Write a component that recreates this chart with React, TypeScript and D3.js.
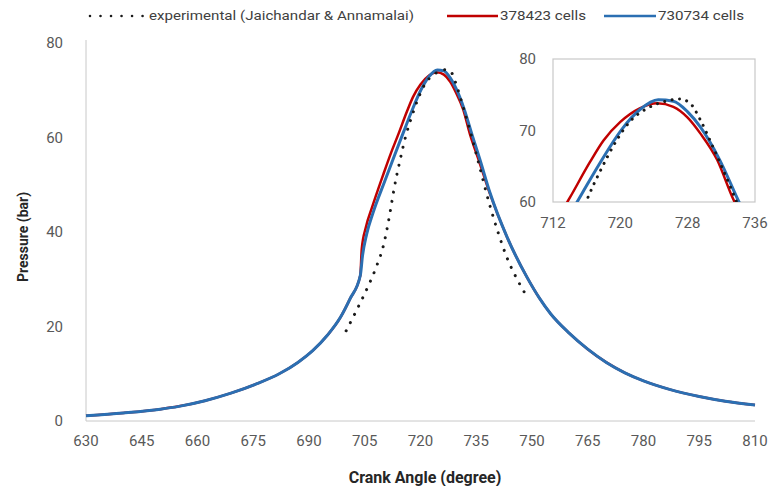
import React from "react";
import * as d3 from "d3";

// ---------- data ----------
const xTicks = [630, 645, 660, 675, 690, 705, 720, 735, 750, 765, 780, 795, 810];
const yTicks = [0, 20, 40, 60, 80];
const insetXTicks = [712, 720, 728, 736];
const insetYTicks = [60, 70, 80];

const angleBlue = [630, 640, 650, 655, 662, 669, 676, 682, 687, 691, 695, 698.5, 701, 703.8, 704.4, 705.5, 707.2, 710.4, 713, 715.5, 717.6, 720.2, 722.3, 724.5, 726.3, 728, 729.5, 731.8, 733.9, 736, 738.7, 743.3, 748.6, 752, 755, 760, 765, 770, 775, 780, 787, 795, 802, 810];
const pressureBlue = [1.1, 1.7, 2.5, 3.1, 4.3, 5.9, 7.9, 10.0, 12.4, 14.9, 18.2, 22.0, 25.8, 30.8, 35, 39.5, 44, 50.8, 56.2, 61.3, 65.5, 70.2, 72.9, 74.3, 74.1, 72.6, 70.5, 65.9, 60.5, 55.3, 48.3, 38.9, 30.5, 26, 22.7, 18.6, 15.2, 12.4, 10.2, 8.5, 6.7, 5.2, 4.2, 3.4];

const angleRed = [630, 640, 650, 655, 662, 669, 676, 682, 687, 691, 695, 698.5, 701, 703.8, 704.2, 705.3, 707, 710, 712, 714, 716.4, 718, 720, 722.3, 724.4, 726.3, 728, 729.5, 731.5, 733.3, 735.5, 738.5, 743.3, 748.6, 752, 755, 760, 765, 770, 775, 780, 787, 795, 802, 810];
const pressureRed = [1.1, 1.7, 2.5, 3.1, 4.3, 5.9, 7.9, 10.0, 12.4, 14.9, 18.2, 22.0, 25.8, 30.8, 36.5, 41, 45.3, 52.2, 56.6, 60.6, 65.6, 68.6, 71.2, 73.1, 73.8, 73.3, 71.8, 69.6, 65.9, 60.7, 55.6, 48.5, 38.9, 30.5, 26, 22.7, 18.6, 15.2, 12.4, 10.2, 8.5, 6.7, 5.2, 4.2, 3.4];

const angleExp = [700, 702.2, 704.4, 706.3, 708.2, 710.2, 711.2, 712, 712.9, 714.5, 716, 717.6, 719.6, 721.1, 723.2, 725.1, 727.1, 728.3, 729.5, 731, 731.8, 733.3, 735.5, 738.7, 741, 743.3, 746, 748.9];
const pressureExp = [19.1, 22.5, 26, 29.2, 32.8, 37.7, 41.5, 45, 49.2, 55.2, 60.2, 64.3, 68.7, 71.2, 73.1, 74, 74.4, 73.8, 71.5, 67.7, 65.6, 61.5, 55, 45.5, 39.6, 34.5, 30, 26];

const seriesNames = ["experimental (Jaichandar & Annamalai)", "378423 cells", "730734 cells"];

const W = 773;
const H = 486;

const RED = "#c00000";
const BLUE = "#2b6fb2";
const DOT = "#1a1a1a";
const TICK = "#595959";
const AXIS = "#c8c8c8";
const FONT = "Roboto, 'Noto Sans', sans-serif";

function zip(a: number[], b: number[]): [number, number][] {
  return a.map((v, i) => [v, b[i]] as [number, number]);
}

export default function App() {
  const x = d3.scaleLinear().domain([630, 810]).range([86, 755]);
  const y = d3.scaleLinear().domain([0, 80]).range([421, 43]);

  const ix = d3.scaleLinear().domain([712, 736]).range([553, 755]);
  const iy = d3.scaleLinear().domain([60, 80]).range([202, 59]);

  const mainLine = d3
    .line<[number, number]>()
    .x((d) => x(d[0]))
    .y((d) => y(d[1]))
    .curve(d3.curveMonotoneX);
  const insetLine = d3
    .line<[number, number]>()
    .x((d) => ix(d[0]))
    .y((d) => iy(d[1]))
    .curve(d3.curveMonotoneX);

  const blue = zip(angleBlue, pressureBlue);
  const red = zip(angleRed, pressureRed);
  const exp = zip(angleExp, pressureExp);

  const dotStyle = {
    stroke: DOT,
    strokeWidth: 3,
    strokeDasharray: "0.01 9.2",
    strokeLinecap: "round" as const,
    fill: "none",
  };

  return (
    <svg
      width={W}
      height={H}
      style={{ position: "absolute", left: 0, top: 0, background: "#fff" }}
      fontFamily={FONT}
    >
      <rect x={0} y={0} width={W} height={H} fill="#fff" />
      <defs>
        <clipPath id="insetClip">
          <rect x={ix(712)} y={iy(80)} width={ix(736) - ix(712)} height={iy(60) - iy(80)} />
        </clipPath>
      </defs>

      {/* legend */}
      <g>
        <line x1={90} x2={143} y1={16} y2={16} {...dotStyle} strokeWidth={2.6} strokeDasharray="0.01 10.5" />
        <text x={149} y={16} dominantBaseline="central" fontSize={12} fill="#404040" textLength={265} lengthAdjust="spacingAndGlyphs">
          {seriesNames[0]}
        </text>
        <line x1={447} x2={498} y1={16} y2={16} stroke={RED} strokeWidth={2.5} />
        <text x={500} y={16} dominantBaseline="central" fontSize={12} fill="#404040" textLength={86} lengthAdjust="spacingAndGlyphs">
          {seriesNames[1]}
        </text>
        <line x1={604} x2={656} y1={16} y2={16} stroke={BLUE} strokeWidth={2.5} />
        <text x={658} y={16} dominantBaseline="central" fontSize={12} fill="#404040" textLength={86} lengthAdjust="spacingAndGlyphs">
          {seriesNames[2]}
        </text>
      </g>

      {/* main axes */}
      <line x1={x(630)} x2={x(630)} y1={y(80) - 3} y2={y(0)} stroke={AXIS} strokeWidth={1} />
      <line x1={x(630)} x2={x(810)} y1={y(0)} y2={y(0)} stroke={AXIS} strokeWidth={1} />
      {yTicks.map((t) => (
        <text key={"y" + t} x={63} y={y(t)} textAnchor="end" dominantBaseline="central" fontSize={15} fill={TICK}>
          {t}
        </text>
      ))}
      {xTicks.map((t) => (
        <text key={"x" + t} x={x(t)} y={441} textAnchor="middle" dominantBaseline="central" fontSize={15} fill={TICK}>
          {t}
        </text>
      ))}
      <text x={425} y={477} textAnchor="middle" dominantBaseline="central" fontSize={16} fontWeight="bold" fill="#262626">
        Crank Angle (degree)
      </text>
      <text
        transform={`translate(23, 237) rotate(-90)`}
        textAnchor="middle"
        dominantBaseline="central"
        fontSize={14}
        fontWeight="bold"
        fill="#262626"
      >
        Pressure (bar)
      </text>

      {/* main curves */}
      <path d={mainLine(red) || ""} fill="none" stroke={RED} strokeWidth={2.5} />
      <path d={mainLine(blue) || ""} fill="none" stroke={BLUE} strokeWidth={3} />
      <path d={mainLine(exp) || ""} {...dotStyle} />

      {/* inset */}
      <rect x={ix(712)} y={iy(80)} width={ix(736) - ix(712)} height={iy(60) - iy(80)} fill="#fff" stroke={AXIS} strokeWidth={1.2} />
      <g clipPath="url(#insetClip)">
        <path d={insetLine(red) || ""} fill="none" stroke={RED} strokeWidth={2.5} />
        <path d={insetLine(blue) || ""} fill="none" stroke={BLUE} strokeWidth={3} />
        <path d={insetLine(exp) || ""} {...dotStyle} strokeDasharray="0.01 7.5" />
      </g>
      {insetYTicks.map((t) => (
        <text key={"iy" + t} x={536} y={iy(t)} textAnchor="end" dominantBaseline="central" fontSize={15} fill={TICK}>
          {t}
        </text>
      ))}
      {insetXTicks.map((t) => (
        <text key={"ix" + t} x={ix(t)} y={223} textAnchor="middle" dominantBaseline="central" fontSize={15} fill={TICK}>
          {t}
        </text>
      ))}
    </svg>
  );
}
